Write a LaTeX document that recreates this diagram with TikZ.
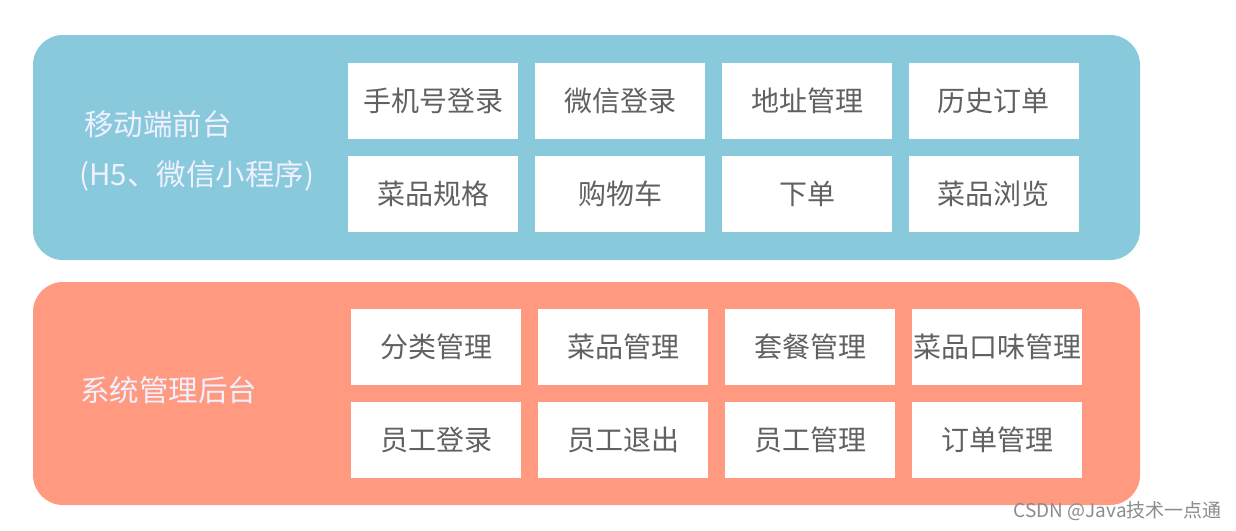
\documentclass[tikz,border=0pt]{standalone}
\usepackage{fontspec}
\setmainfont{Noto Sans CJK SC}
\begin{document}
\begin{tikzpicture}[x=1pt,y=-1pt,
  panel/.style={draw=none,rounded corners=30pt},
  item/.style={fill=white,draw=none,minimum width=170pt,minimum height=76pt,inner sep=0pt,
    text=black!62,font=\fontsize{28}{32}\selectfont},
  side/.style={text=white!94!blue,font=\fontsize{29.5}{34}\selectfont,anchor=west,inner sep=0pt}]
\fill[white] (0,0) rectangle (1236,530);
\useasboundingbox (0,0) rectangle (1236,530);
\fill[panel,fill={rgb,255:red,136;green,202;blue,219}] (33,35) rectangle (1140,260);
\fill[panel,fill={rgb,255:red,255;green,154;blue,128}] (33,282) rectangle (1140,505);
\node[side] (m1) at (84,124) {移动端前台};
\node[side] (m2) at (79,176) {(H5、微信小程序)};
\node[side] (s1) at (80,390) {系统管理后台};
\node[item] (a1) at (433,101) {手机号登录};
\node[item] (a2) at (620,101) {微信登录};
\node[item] (a3) at (807,101) {地址管理};
\node[item] (a4) at (993.5,101) {历史订单};
\node[item] (a5) at (433,194) {菜品规格};
\node[item] (a6) at (620,194) {购物车};
\node[item] (a7) at (807,194) {下单};
\node[item] (a8) at (993.5,194) {菜品浏览};
\node[item] (b1) at (436,346.5) {分类管理};
\node[item] (b2) at (623,346.5) {菜品管理};
\node[item] (b3) at (810,346.5) {套餐管理};
\node[item] (b4) at (997,346.5) {菜品口味管理};
\node[item] (b5) at (436,440) {员工登录};
\node[item] (b6) at (623,440) {员工退出};
\node[item] (b7) at (810,440) {员工管理};
\node[item] (b8) at (997,440) {订单管理};
\node[anchor=east,inner sep=0pt,text=black!45,font=\fontsize{19}{22}\selectfont] (wm) at (1222,511) {CSDN @Java技术一点通};
\end{tikzpicture}
\end{document}
